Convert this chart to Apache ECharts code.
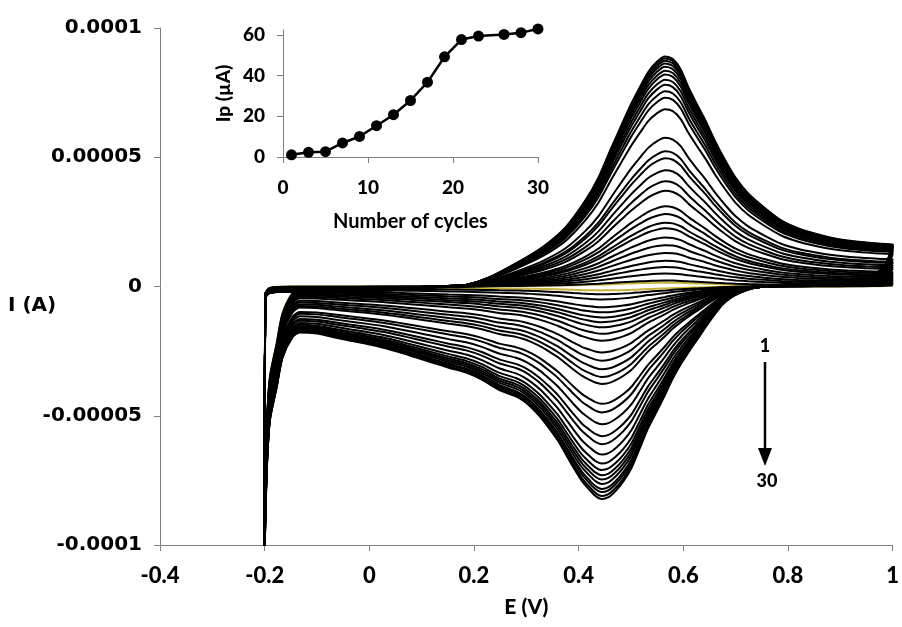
<!DOCTYPE html>
<html><head><meta charset="utf-8">
<script src="https://cdn.jsdelivr.net/npm/echarts@6/dist/echarts.min.js"></script>
<style>html,body{margin:0;padding:0;background:#fff}#c{width:902px;height:627px}</style>
</head><body><div id="c"></div>
<script>
// ---- Main plot: cyclic voltammograms (current in µA, potential in V) ----
// Forward (anodic) scan template, read from the outermost cycle
const E_FWD = [-0.2, -0.199, -0.19, -0.15, -0.1, -0.05, 0, 0.05, 0.1, 0.15, 0.185, 0.229, 0.28, 0.33, 0.375, 0.413, 0.438, 0.463, 0.482, 0.501, 0.518, 0.533, 0.55, 0.565, 0.58, 0.595, 0.61, 0.626, 0.642, 0.66, 0.68, 0.7, 0.724, 0.755, 0.787, 0.82, 0.851, 0.88, 0.914, 0.95, 0.977, 1.0];
const I_FWD_OUTER = [0, -1.5, -2, -2, -2, -2, -1.8, -1.4, -0.8, 0.2, 0.6, 3.5, 8.9, 15.1, 22.9, 33.3, 42.2, 53.9, 62.5, 70.9, 77.5, 83, 87, 89, 88, 84, 77, 70.5, 64.3, 56.5, 48.8, 42, 36, 30.5, 25.6, 22.5, 20.5, 19, 17.8, 17, 16.5, 16.3];
// charging spike at the start of each forward scan (first points)
const FWD_SPIKE_HEAD = [-100, -3, -0.5];
// Reverse (cathodic) scan template, read from the outermost cycle
const E_REV = [0.985, 0.96, 0.93, 0.9, 0.85, 0.8, 0.756, 0.73, 0.71, 0.691, 0.675, 0.661, 0.645, 0.629, 0.612, 0.596, 0.58, 0.566, 0.55, 0.533, 0.517, 0.501, 0.485, 0.47, 0.457, 0.444, 0.432, 0.42, 0.406, 0.39, 0.375, 0.36, 0.343, 0.327, 0.31, 0.295, 0.28, 0.248, 0.215, 0.185, 0.152, 0.12, 0.09, 0.055, 0.025, -0.01, -0.038, -0.07, -0.1, -0.133, -0.147, -0.166, -0.177, -0.19, -0.196, -0.2];
const I_REV_OUTER = [8, 4.5, 3, 2.3, 1.5, 0.8, 0, -0.8, -2.3, -4.3, -7, -10.5, -15, -19.8, -24.8, -29.8, -35.5, -41.5, -48, -54.7, -62.5, -70.2, -75.5, -79.2, -81.5, -82.2, -81, -78.5, -75.2, -70, -64.7, -59.5, -54.7, -50.5, -46.9, -44.3, -42.5, -40, -36, -33.3, -31.4, -29.4, -27.5, -25.3, -23.6, -22, -20.9, -19.5, -18.2, -17.8, -17.7, -17.6, -17.5, -17.4, -17.3, -17.2];
// steep cathodic dive at the switching potential (last points)
const REV_DIVE_TAIL = [-2, -10, -21.5, -34.5, -54, -85];
// per-cycle peak currents (µA), cycles 1..30
const IPA = [1.5, 2.3, 5, 7.5, 10, 13, 16, 19, 22.5, 24.7, 28, 31, 37, 40.7, 45, 49.6, 52.3, 57.5, 68.6, 73, 75.5, 78, 80, 82, 83.5, 85, 86.3, 87.3, 88.2, 89];
const IPC = [-1.5, -3, -5, -8, -10, -12, -13.8, -15.8, -18.3, -21, -25.5, -28.7, -32, -35, -37.7, -45.4, -48.7, -53.3, -57.9, -61, -65, -68.5, -71, -73, -74.7, -76.4, -78.3, -79.5, -81, -82.2];
const Y_TICK_LABELS = {'-100': '-0.0001', '-50': '-0.00005', '0': '0', '50': '0.00005', '100': '0.0001'};

// ---- Inset: Ip vs number of cycles ----
const INSET_CYCLES = [1, 3, 5, 7, 9, 11, 13, 15, 17, 19, 21, 23, 26, 28, 30];
const INSET_IP = [1.1, 2.3, 2.6, 6.9, 10.1, 15.4, 20.8, 27.8, 36.8, 49.3, 57.8, 59.5, 60.3, 61.2, 63];
const INSET_Y_TICKS = [0, 20, 40, 60];

const AXIS_COLOR = '#7f7f7f';
const chart = echarts.init(document.getElementById('c'), null, {renderer: 'canvas'});

const peakA = IPA[IPA.length - 1], peakC = IPC[IPC.length - 1];
const cycleSeries = IPA.map((ipa, i) => {
  const ra = ipa / peakA, rc = IPC[i] / peakC;
  const fwd = E_FWD.map((e, k) => [e, ra * I_FWD_OUTER[k] + (k < FWD_SPIKE_HEAD.length ? FWD_SPIKE_HEAD[k] : 0)]);
  const off = E_REV.length - REV_DIVE_TAIL.length;
  const rev = E_REV.map((e, k) => [e, rc * I_REV_OUTER[k] + (k >= off ? REV_DIVE_TAIL[k - off] : 0)]);
  return {
    type: 'line', xAxisIndex: 0, yAxisIndex: 0,
    data: fwd.concat(rev), showSymbol: false, smooth: 0.25, silent: true,
    lineStyle: {width: 2, color: i === 0 ? '#c8b43c' : '#000'},
    z: i === 0 ? 1 : 2
  };
});

const LATO = 'Lato';
chart.setOption({
  animation: false,
  backgroundColor: '#fff',
  grid: [
    {left: 160, right: 7, top: 28, bottom: 82},
    {left: 283, top: 30, width: 255, height: 127}
  ],
  xAxis: [
    {gridIndex: 0, type: 'value', min: -0.4, max: 1, interval: 0.2,
     axisLine: {onZero: false, lineStyle: {color: AXIS_COLOR, width: 1}},
     axisTick: {inside: false, length: 6, lineStyle: {color: AXIS_COLOR}},
     splitLine: {show: false},
     axisLabel: {margin: 20, color: '#000', fontFamily: LATO, fontWeight: 900, fontSize: 22},
     name: 'E (V)', nameLocation: 'middle', nameGap: 52,
     nameTextStyle: {color: '#000', fontFamily: LATO, fontWeight: 900, fontSize: 21}},
    {gridIndex: 1, type: 'value', min: 0, max: 30, interval: 10,
     axisLine: {onZero: false, lineStyle: {color: AXIS_COLOR, width: 1}},
     axisTick: {length: 6, lineStyle: {color: AXIS_COLOR}},
     splitLine: {show: false},
     axisLabel: {margin: 21, color: '#000', fontFamily: LATO, fontWeight: 900, fontSize: 19},
     name: 'Number of cycles', nameLocation: 'middle', nameGap: 55,
     nameTextStyle: {color: '#000', fontFamily: LATO, fontWeight: 'bold', fontSize: 20}}
  ],
  yAxis: [
    {gridIndex: 0, type: 'value', min: -100, max: 100, interval: 50,
     axisLine: {show: true, onZero: false, lineStyle: {color: AXIS_COLOR, width: 1}},
     axisTick: {show: true, length: 6, lineStyle: {color: AXIS_COLOR}},
     splitLine: {show: false},
     axisLabel: {margin: 18, color: '#000', fontFamily: 'DejaVu Sans', fontWeight: 'bold', fontSize: 20,
       formatter: v => Y_TICK_LABELS[String(Math.round(v))]}},
    {gridIndex: 1, type: 'value', min: 0, max: 62.5,
     axisLine: {show: true, onZero: false, lineStyle: {color: AXIS_COLOR, width: 1}},
     axisTick: {show: true, length: 6, lineStyle: {color: AXIS_COLOR}, customValues: INSET_Y_TICKS},
     splitLine: {show: false},
     axisLabel: {margin: 18, color: '#000', fontFamily: LATO, fontWeight: 900, fontSize: 19, customValues: INSET_Y_TICKS},
     name: 'Ip (µA)', nameLocation: 'middle', nameGap: 50, nameRotate: 90,
     nameTextStyle: {color: '#000', fontFamily: LATO, fontWeight: 900, fontSize: 19}}
  ],
  graphic: [
    {type: 'text', left: 8, top: 296, style: {text: 'I (A)', fill: '#000', font: 'bold 20px "DejaVu Sans"'}},
    {type: 'text', x: 765, y: 346, style: {text: '1', fill: '#000', font: '900 18px Lato', textAlign: 'center', textVerticalAlign: 'middle'}},
    {type: 'line', shape: {x1: 765, y1: 362, x2: 765, y2: 452}, style: {stroke: '#000', lineWidth: 2.5}},
    {type: 'polygon', shape: {points: [[758, 448], [772, 448], [765, 466]]}, style: {fill: '#000'}},
    {type: 'text', x: 767, y: 481, style: {text: '30', fill: '#000', font: '900 18px Lato', textAlign: 'center', textVerticalAlign: 'middle'}}
  ],
  series: cycleSeries.concat([{
    type: 'line', xAxisIndex: 1, yAxisIndex: 1, data: INSET_CYCLES.map((c, i) => [c, INSET_IP[i]]),
    symbol: 'circle', symbolSize: 11, clip: false, silent: true,
    itemStyle: {color: '#000'}, lineStyle: {color: '#000', width: 2.5}, z: 5
  }])
});
</script></body></html>
